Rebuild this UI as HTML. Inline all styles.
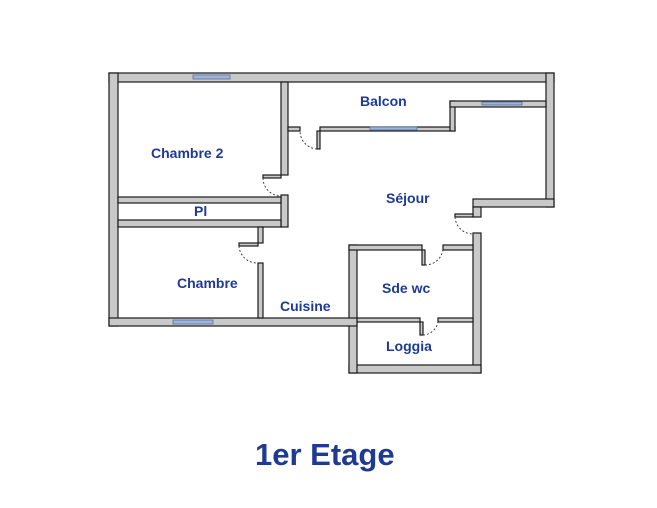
<!DOCTYPE html>
<html><head><style>
html,body{margin:0;padding:0;background:#fff;}
svg{display:block;}
text{font-family:"Liberation Sans",sans-serif;font-weight:bold;fill:#1f3a93;}
</style></head><body>
<svg width="657" height="508" viewBox="0 0 657 508">
<g fill="#c9c9c9" stroke="#1a1a1a" stroke-width="1.2">
<!-- outer top -->
<rect x="109" y="73" width="445" height="9"/>
<!-- left outer -->
<rect x="109" y="73" width="9" height="253"/>
<!-- right outer -->
<rect x="546" y="73" width="8" height="134"/>
<!-- step bottom -->
<rect x="473" y="199" width="81" height="8"/>
<!-- right of sde wc/loggia -->
<rect x="473" y="207" width="8" height="10"/>
<rect x="473" y="233" width="8" height="140"/>
<!-- loggia bottom -->
<rect x="349" y="365" width="132" height="8"/>
<!-- left of sde wc -->
<rect x="349" y="245" width="8" height="128"/>
<!-- sde wc top -->
<rect x="349" y="245" width="73" height="5"/>
<rect x="443" y="245" width="30" height="5"/>
<!-- sde wc/loggia divider -->
<rect x="357" y="318" width="63" height="4"/>
<rect x="438" y="318" width="35" height="4"/>
<!-- bottom outer -->
<rect x="109" y="318" width="248" height="8"/>
<!-- chambre2 right wall -->
<rect x="281" y="82" width="7" height="93"/>
<rect x="281" y="195" width="7" height="32"/>
<!-- chambre2 bottom / Pl -->
<rect x="118" y="197" width="163" height="6"/>
<rect x="118" y="220" width="163" height="7"/>
<!-- chambre right wall -->
<rect x="258" y="227" width="5" height="16"/>
<rect x="258" y="263" width="5" height="55"/>
<!-- balcony bottom wall -->
<rect x="288" y="127" width="12" height="4"/>
<rect x="320" y="127" width="135" height="4"/>
<rect x="450" y="101" width="5" height="30"/>
<rect x="450" y="101" width="96" height="6"/>
<!-- door leaf stubs -->
<rect x="263" y="175" width="18" height="3"/>
<rect x="239" y="243" width="19" height="3"/>
<rect x="317" y="131" width="3" height="18"/>
<rect x="455" y="214" width="18" height="3"/>
<rect x="422" y="250" width="3" height="15"/>
<rect x="420" y="322" width="3" height="13"/>
</g>
<!-- windows -->
<g fill="#9fb4d8" stroke="#5570a0" stroke-width="0.8">
<rect x="193" y="75" width="37" height="4"/>
<rect x="173" y="320" width="40" height="4"/>
<rect x="370" y="127" width="47" height="3"/>
<rect x="482" y="102" width="40" height="3"/>
</g>
<!-- door swings -->
<g fill="none" stroke="#333" stroke-width="0.9" stroke-dasharray="2,2">
<path d="M263 178 A18 18 0 0 0 281 196"/>
<path d="M239 246 A18 18 0 0 0 257 263"/>
<path d="M317 149 A18 18 0 0 1 300 131"/>
<path d="M455 217 A18 18 0 0 0 473 234"/>
<path d="M425 265 A18 18 0 0 0 443 250"/>
<path d="M423 335 A16 16 0 0 0 438 322"/>
</g>
<g font-size="14">
<text x="151" y="158">Chambre 2</text>
<text x="194" y="216">Pl</text>
<text x="360" y="106">Balcon</text>
<text x="386" y="203">Séjour</text>
<text x="177" y="288">Chambre</text>
<text x="280" y="311">Cuisine</text>
<text x="382" y="293">Sde wc</text>
<text x="386" y="351">Loggia</text>
</g>
<text x="255" y="465" font-size="31">1er Etage</text>
</svg>
</body></html>
